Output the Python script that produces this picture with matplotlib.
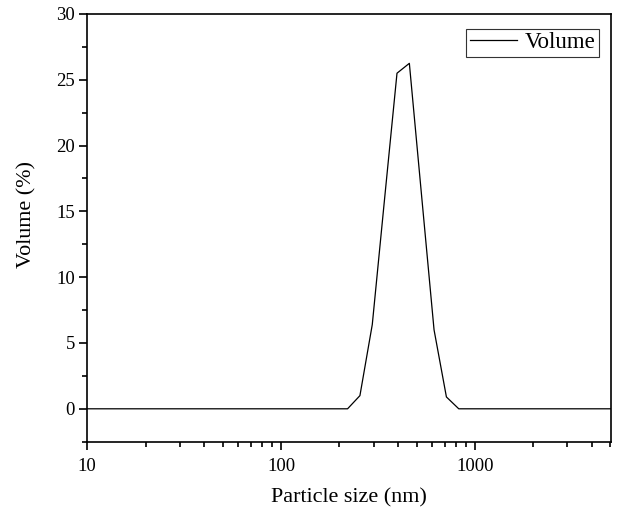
import matplotlib
matplotlib.use("Agg")
import matplotlib.pyplot as plt
from matplotlib.ticker import FixedLocator, FixedFormatter, MultipleLocator, LogLocator, NullFormatter

size_nm = [10, 220.2, 255.0, 295.3, 342.0, 396.1, 458.7, 531.2, 615.1, 712.4, 825.0, 5000]
volume_pct = [0, 0, 1.0, 6.4, 16.0, 25.5, 26.25, 16.1, 6.0, 0.9, 0, 0]
xticks = [10, 100, 1000]
xtick_labels = ["10", "100", "1000"]
yticks = [0, 5, 10, 15, 20, 25, 30]

plt.rcParams['font.family'] = ['Liberation Serif', 'DejaVu Serif']

fig = plt.figure(figsize=(6.19, 5.12), dpi=100)
ax = fig.add_axes([0.141, 0.1373, 0.846, 0.8354])
ax.plot(size_nm, volume_pct, color='black', lw=0.9, label='Volume')
ax.set_xscale('log')
ax.set_xlim(10, 5030)
ax.set_ylim(-2.5, 30)
ax.xaxis.set_major_locator(FixedLocator(xticks))
ax.xaxis.set_major_formatter(FixedFormatter(xtick_labels))
ax.xaxis.set_minor_locator(LogLocator(base=10, subs=range(2, 10)))
ax.xaxis.set_minor_formatter(NullFormatter())
ax.yaxis.set_major_locator(FixedLocator(yticks))
ax.yaxis.set_minor_locator(MultipleLocator(2.5))
ax.tick_params(which='both', direction='out', top=False, right=False, labelsize=13.5, width=1.2)
ax.tick_params(which='major', length=6, pad=3)
ax.tick_params(which='minor', length=3.5)
ax.tick_params(axis='x', which='major', pad=6)
for s in ax.spines.values():
    s.set_linewidth(1.2)
ax.set_xlabel('Particle size (nm)', fontsize=15.9, labelpad=9)
ax.set_ylabel('Volume (%)', fontsize=15.9)
ax.yaxis.set_label_coords(-0.097, 0.532)
leg = ax.legend(loc='upper right', bbox_to_anchor=(0.977, 0.965), fontsize=16.5,
                frameon=True, fancybox=False, edgecolor='#333333', framealpha=1,
                borderpad=0.15, handlelength=2.05, handletextpad=0.35,
                borderaxespad=0.0)
leg.get_frame().set_linewidth(0.8)
fig.savefig('out.png', dpi=100)
